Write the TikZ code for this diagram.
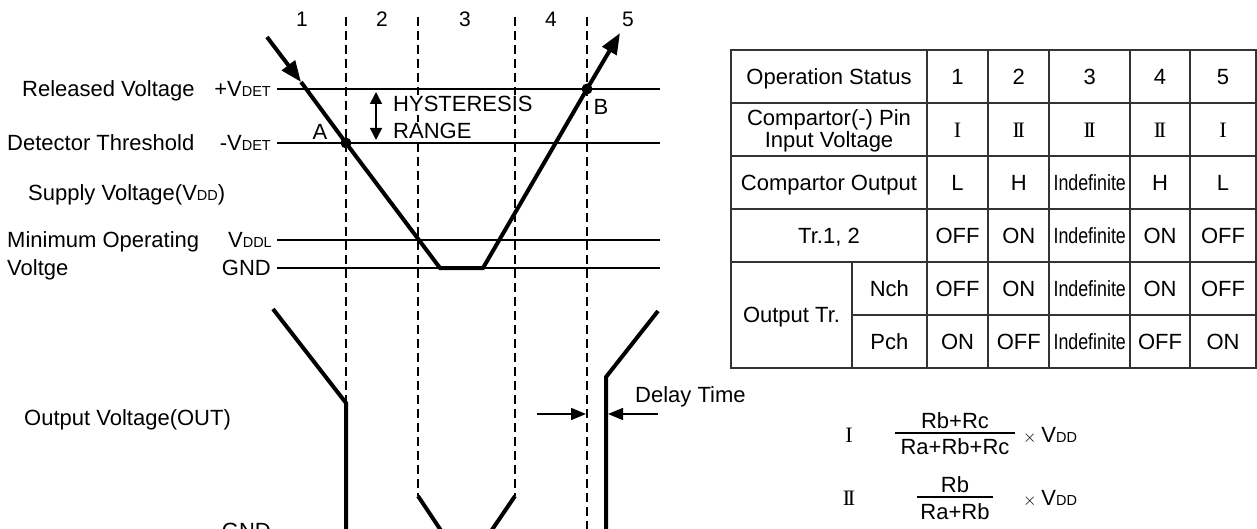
\documentclass[tikz,border=0pt]{standalone}
\usepackage{fontspec}
\setmainfont{Liberation Sans}
\newfontfamily\romfont{Liberation Serif}
\newfontfamily\condfont[FakeStretch=0.81]{Liberation Sans}
\usetikzlibrary{arrows.meta}

\newcommand{\lowcap}[1]{{\fontsize{14.5}{16}\selectfont #1}}
\newcommand{\romI}{{\romfont I}}
\newcommand{\romII}{{\romfont I\kern-2.5pt I}}
\newcommand{\indef}{{\condfont Indefinite}}

\tikzset{
  txt/.style={inner sep=0pt, font=\fontsize{22}{26}\selectfont, text height=15.8pt, text depth=0pt},
  num/.style={txt, font=\fontsize{21}{25}\selectfont, text height=15pt},
  level/.style={line width=1.5pt},
  sect/.style={line width=1.3pt, dash pattern=on 9pt off 5pt},
  curve/.style={line width=4pt},
  cell/.style={line width=1.8pt, black!80},
  bigtip/.style={-{Triangle[length=21pt,width=16pt]}},
  smalltip/.style={-{Triangle[length=15pt,width=12pt]}},
}

\begin{document}
\begin{tikzpicture}[x=1pt,y=-1pt]
  \useasboundingbox (0,0) rectangle (1257,529);
  \clip (0,0) rectangle (1257,529);

  % voltage levels
  \coordinate (rel0) at (277,89);  \coordinate (rel1) at (660,89);
  \coordinate (det0) at (277,143); \coordinate (det1) at (660,143);
  \coordinate (ddl0) at (277,240); \coordinate (ddl1) at (660,240);
  \coordinate (gnd0) at (277,268); \coordinate (gnd1) at (660,268);
  \draw[level] (rel0) -- (rel1);
  \draw[level] (det0) -- (det1);
  \draw[level] (ddl0) -- (ddl1);
  \draw[level] (gnd0) -- (gnd1);

  % borders between the states
  \foreach \x/\yb in {346/529, 418/496, 515/496, 587/529}
    \draw[sect] (\x,17) -- (\x,\yb);

  \node[num] (s1) at (302,19) {1};
  \node[num] (s2) at (382,19) {2};
  \node[num] (s3) at (465,19) {3};
  \node[num] (s4) at (551,19) {4};
  \node[num] (s5) at (628,19) {5};

  % supply voltage
  \coordinate (in0) at (267,37);
  \coordinate (inarr) at (301,82);
  \coordinate (A) at (346,143);
  \coordinate (low0) at (440,268);
  \coordinate (low1) at (483,268);
  \coordinate (B) at (587,89);
  \coordinate (in1) at (620,33);
  \draw[curve,bigtip] (in0) -- (inarr);
  \draw[curve,bigtip] (inarr) -- (A) -- (low0) -- (low1) -- (B) -- (in1);
  \fill (A) circle (5.5pt);
  \fill (B) circle (5.5pt);
  \node[txt] (la) at (320,132) {A};
  \node[txt] (lb) at (601,107) {B};

  % hysteresis
  \coordinate (h0) at (376,92);
  \coordinate (h1) at (376,140);
  \draw[level,{Triangle[length=12pt,width=12pt]}-{Triangle[length=12pt,width=12pt]}] (h0) -- (h1);
  \node[txt,anchor=west,fill=white,inner sep=1pt] (hys) at (392,104) {HYSTERESIS};
  \node[txt,anchor=west,fill=white,inner sep=1pt] (rng) at (392,131) {RANGE};

  % left labels
  \node[txt,anchor=west] (lrel) at (22,89) {Released Voltage};
  \node[txt,anchor=east] (vrel) at (271,89) {+V\lowcap{DET}};
  \node[txt,anchor=west] (ldet) at (7,143) {Detector Threshold};
  \node[txt,anchor=east] (vdet) at (271,143) {-V\lowcap{DET}};
  \node[txt,anchor=west] (lvdd) at (28,193) {Supply Voltage(V\lowcap{DD})};
  \node[txt,anchor=west] (lmin) at (7,240) {Minimum Operating};
  \node[txt,anchor=west] (lmin2) at (7,268) {Voltge};
  \node[txt,anchor=east] (vddl) at (272,240) {V\lowcap{DDL}};
  \node[txt,anchor=east] (vgnd) at (271,268) {GND};

  % output voltage
  \coordinate (o0) at (273,309);
  \coordinate (o1) at (346,403);
  \coordinate (o2) at (346,540);
  \draw[curve] (o0) -- (o1) -- (o2);
  \coordinate (v0) at (418,496);
  \coordinate (v1) at (466,568);
  \coordinate (v2) at (515,496);
  \draw[curve] (v0) -- (v1) -- (v2);
  \coordinate (r0) at (606,540);
  \coordinate (r1) at (606,377);
  \coordinate (r2) at (658,311);
  \draw[curve] (r0) -- (r1) -- (r2);
  \node[txt,anchor=west] (lout) at (24,418) {Output Voltage(OUT)};
  \node[txt,anchor=east] (ogn) at (271,531) {GND};

  % delay time
  \coordinate (d0) at (537,414); \coordinate (d1) at (586,414);
  \coordinate (d2) at (658,414); \coordinate (d3) at (608,414);
  \draw[level,smalltip] (d0) -- (d1);
  \draw[level,smalltip] (d2) -- (d3);
  \node[txt,anchor=west] (dly) at (635,395) {Delay Time};

  % status table
  \draw[cell] (731,50) rectangle (1256,368);
  \foreach \y in {103,156,209,262}
    \draw[cell] (731,\y) -- (1256,\y);
  \draw[cell] (852,315) -- (1256,315);
  \foreach \x in {926.7,988.3,1049.3,1130,1190}
    \draw[cell] (\x,50) -- (\x,368);
  \draw[cell] (852,262) -- (852,368);

  \node[txt] (h1) at (829,76.5) {Operation Status};
  \node[txt] (h2a) at (829,118) {Compartor(-) Pin};
  \node[txt] (h2b) at (829,140) {Input Voltage};
  \node[txt] (h3) at (829,182.5) {Compartor Output};
  \node[txt] (h4) at (829,235.5) {Tr.1, 2};
  \node[txt] (h5) at (791.5,315) {Output Tr.};
  \node[txt] (h5n) at (889.4,288.5) {Nch};
  \node[txt] (h5p) at (889.4,341.5) {Pch};

  \foreach \cx/\a/\b/\c/\d/\e/\f [count=\i] in {
      957.5/1/\romI/L/OFF/OFF/ON,
      1018.8/2/\romII/H/ON/ON/OFF,
      1089.7/3/\romII/\indef/\indef/\indef/\indef,
      1160/4/\romII/H/ON/ON/OFF,
      1223/5/\romI/L/OFF/OFF/ON} {
    \node[txt] (c\i r1) at (\cx,76.5) {\a};
    \node[txt] (c\i r2) at (\cx,129.5) {\b};
    \node[txt] (c\i r3) at (\cx,182.5) {\c};
    \node[txt] (c\i r4) at (\cx,235.5) {\d};
    \node[txt] (c\i r5) at (\cx,288.5) {\e};
    \node[txt] (c\i r6) at (\cx,341.5) {\f};
  }

  % divider formulas
  \node[txt] (f1) at (849,435) {\romI};
  \node[txt] (f1n) at (955,421) {Rb+Rc};
  \node[txt] (f1d) at (955,447) {Ra+Rb+Rc};
  \coordinate (b1a) at (895,433); \coordinate (b1b) at (1015,433);
  \draw[level] (b1a) -- (b1b);
  \node[txt,anchor=west] (f1v) at (1023,435) {\fontsize{17}{20}\selectfont$\times$ \fontsize{22}{26}\selectfont V\lowcap{DD}};

  \node[txt] (f2) at (849,498) {\romII};
  \node[txt] (f2n) at (955,485) {Rb};
  \node[txt] (f2d) at (955,512) {Ra+Rb};
  \coordinate (b2a) at (917,497); \coordinate (b2b) at (993,497);
  \draw[level] (b2a) -- (b2b);
  \node[txt,anchor=west] (f2v) at (1023,498) {\fontsize{17}{20}\selectfont$\times$ \fontsize{22}{26}\selectfont V\lowcap{DD}};
\end{tikzpicture}
\end{document}
